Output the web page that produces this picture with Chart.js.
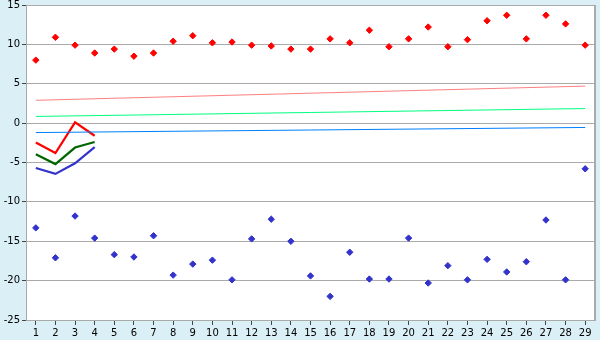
<!DOCTYPE html>
<html>
<head>
<meta charset="utf-8">
<script src="https://cdn.jsdelivr.net/npm/chart.js@4/dist/chart.umd.min.js"></script>
<style>
  html, body { margin: 0; padding: 0; background: #DAEFF6; }
  #wrap { width: 600px; height: 340px; }
</style>
</head>
<body>
<div id="wrap"><canvas id="c" width="600" height="340"></canvas></div>
<script>
const categories = ['1','2','3','4','5','6','7','8','9','10','11','12','13','14','15','16','17','18','19','20','21','22','23','24','25','26','27','28','29'];
const maxTemps = [8.0,10.9,9.9,8.9,9.4,8.5,8.9,10.4,11.1,10.2,10.3,9.9,9.8,9.4,9.4,10.7,10.2,11.8,9.7,10.7,12.2,9.7,10.6,13.0,13.7,10.7,13.7,12.6,9.9];
const minTemps = [-13.3,-17.1,-11.8,-14.6,-16.7,-17.0,-14.3,-19.3,-17.9,-17.4,-19.9,-14.7,-12.2,-15.0,-19.4,-22.0,-16.4,-19.8,-19.8,-14.6,-20.3,-18.1,-19.9,-17.3,-18.9,-17.6,-12.3,-19.9,-5.8];
// trend lines: endpoints (first and last day)
const maxTrendEnds = [2.9, 4.7];
const meanTrendEnds = [0.85, 1.85];
const minTrendEnds = [-1.2, -0.55];
// short current series (days 1-4)
const curMax = [-2.45,-3.8,0.1,-1.6];
const curMean = [-3.95,-5.2,-3.1,-2.4];
const curMin = [-5.7,-6.45,-5.1,-3.05];
const yTicks = [15,10,5,0,-5,-10,-15,-20,-25];

function ends(e) {
  const a = categories.map(() => null);
  a[0] = e[0]; a[a.length-1] = e[1];
  return a;
}

const frame = {
  id: 'frame',
  beforeDraw(chart) {
    const {ctx, chartArea: a} = chart;
    ctx.save();
    ctx.fillStyle = '#ffffff';
    ctx.fillRect(a.left, a.top, a.right - a.left, a.bottom - a.top);
    ctx.restore();
  },
  afterDraw(chart) {
    const {ctx, chartArea: a} = chart;
    ctx.save();
    ctx.strokeStyle = '#aaaaaa';
    ctx.lineWidth = 2;
    ctx.beginPath();
    ctx.moveTo(a.right, a.top); ctx.lineTo(a.right, a.bottom);
    ctx.stroke();
    ctx.restore();
  }
};

const pt = (color, data) => ({
  type: 'line', data, showLine: false, pointStyle: 'rectRot',
  pointRadius: 3.2, pointBorderWidth: 1, pointBackgroundColor: color, pointBorderColor: color,
  borderColor: color, backgroundColor: color
});
const trend = (color, data) => ({
  type: 'line', data, spanGaps: true, borderColor: color, borderWidth: 1,
  pointRadius: 0, fill: false
});
const cur = (color, data) => ({
  type: 'line', data, borderColor: color, borderWidth: 2.2,
  pointRadius: 0, fill: false
});

new Chart(document.getElementById('c'), {
  type: 'line',
  data: {
    labels: categories,
    datasets: [
      trend('#FF8080', ends(maxTrendEnds)),
      trend('#00FF80', ends(meanTrendEnds)),
      trend('#0080FF', ends(minTrendEnds)),
      cur('#FF0000', curMax),
      cur('#006600', curMean),
      cur('#3333CC', curMin),
      pt('#FF0000', maxTemps),
      pt('#3333CC', minTemps)
    ]
  },
  options: {
    responsive: false,
    animation: false,
    layout: { padding: { top: 5, right: 4, left: 0, bottom: 0 } },
    plugins: { legend: { display: false }, tooltip: { enabled: false } },
    scales: {
      x: {
        offset: true,
        grid: { offset: false, drawOnChartArea: false, tickLength: 5, tickColor: '#444', color: '#aaa' },
        border: { color: '#aaaaaa', width: 1 },
        ticks: { color: '#000', font: { family: 'DejaVu Sans', size: 10 }, padding: 2, maxRotation: 0, autoSkip: false },
        afterFit(s) { s.height = 20; s.paddingLeft = 0; s.paddingRight = 0; }
      },
      y: {
        min: -25, max: 15,
        afterBuildTicks(s) { s.ticks = yTicks.map(v => ({ value: v })); },
        grid: { color: '#aaaaaa', tickLength: 4, tickColor: '#444' },
        border: { color: '#aaaaaa', width: 1 },
        ticks: { color: '#000', font: { family: 'DejaVu Sans', size: 10 }, padding: 2 },
        afterFit(s) { s.width = 26; s.paddingTop = 0; s.paddingBottom = 0; }
      }
    }
  },
  plugins: [frame]
});
</script>
</body>
</html>
